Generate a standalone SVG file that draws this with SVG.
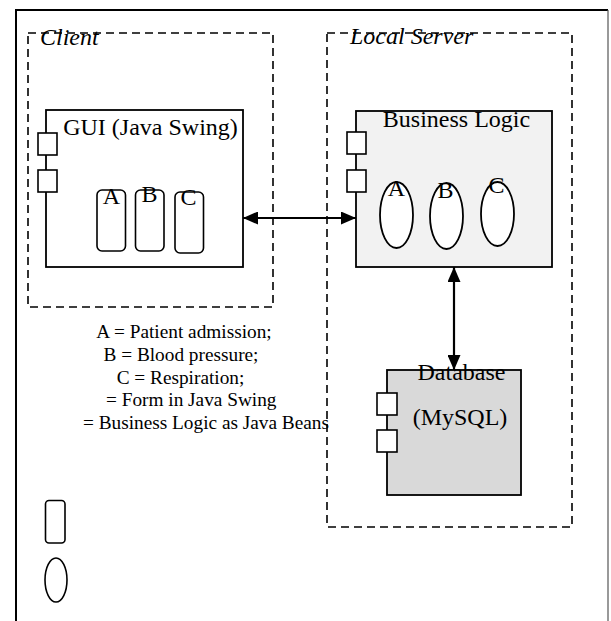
<svg xmlns="http://www.w3.org/2000/svg" width="611" height="621" viewBox="0 0 611 621">
  <style>
    .lbl { font-family: "Liberation Serif", "Times New Roman", serif; font-size: 24px; fill: #000; }
    .ital { font-family: "Liberation Serif", "Times New Roman", serif; font-size: 24px; font-style: italic; fill: #000; }
    .leg { font-family: "Liberation Serif", "Times New Roman", serif; font-size: 19.3px; fill: #000; }
    .zone { fill: none; stroke: #000; stroke-width: 1.6; stroke-dasharray: 8 5; }
    .box { stroke: #000; stroke-width: 1.8; }
    .port { fill: #fff; stroke: #000; stroke-width: 1.6; }
    .form { fill: #fff; stroke: #000; stroke-width: 1.6; }
    .bean { fill: #fff; stroke: #000; stroke-width: 1.8; }
    .link { stroke: #000; stroke-width: 2.2; fill: none; }
  </style>
  <defs>
    <marker id="head" markerUnits="userSpaceOnUse" markerWidth="15" markerHeight="13" refX="15" refY="6.5" orient="auto-start-reverse">
      <path d="M0,0 L15,6.5 L0,13 Z" fill="#000"/>
    </marker>
  </defs>

  <rect width="611" height="621" fill="#fff"/>

  <!-- page frame -->
  <g id="frame">
    <path d="M16,621 V10 H608" fill="none" stroke="#000" stroke-width="2"/>
    <path d="M608,10 V621" fill="none" stroke="#555" stroke-width="1.2"/>
  </g>

  <!-- client tier -->
  <g id="client">
    <rect class="zone" x="28" y="33" width="245" height="274"/>
    <text class="ital" x="40" y="45">Client</text>
  </g>

  <g id="gui">
    <rect class="box" x="46" y="110" width="197" height="157" fill="#fff"/>
    <rect class="port" x="38" y="133" width="19" height="22"/>
    <rect class="port" x="38" y="170" width="19" height="22"/>
    <text class="lbl" x="150.5" y="135" text-anchor="middle">GUI (Java Swing)</text>
    <rect class="form" x="97" y="190" width="28.5" height="61" rx="5"/>
    <rect class="form" x="135.5" y="190" width="28.5" height="61" rx="5"/>
    <rect class="form" x="175" y="192" width="28.5" height="61" rx="5"/>
    <text class="lbl" x="111.5" y="204" text-anchor="middle">A</text>
    <text class="lbl" x="149.5" y="202" text-anchor="middle">B</text>
    <text class="lbl" x="188.5" y="205" text-anchor="middle">C</text>
  </g>

  <!-- server tier -->
  <g id="local-server">
    <rect class="zone" x="327" y="33" width="245" height="494"/>
    <text class="ital" x="350" y="44">Local Server</text>
  </g>

  <g id="business-logic">
    <rect class="box" x="356" y="111" width="196" height="156" fill="#f2f2f2"/>
    <rect class="port" x="347" y="132" width="19" height="22"/>
    <rect class="port" x="347" y="170" width="19" height="22"/>
    <text class="lbl" x="456.5" y="127" text-anchor="middle">Business Logic</text>
    <ellipse class="bean" cx="396.5" cy="215" rx="16.5" ry="33"/>
    <ellipse class="bean" cx="446.5" cy="216" rx="16.5" ry="33"/>
    <ellipse class="bean" cx="497.5" cy="214" rx="16.5" ry="32"/>
    <text class="lbl" x="396.5" y="196" text-anchor="middle">A</text>
    <text class="lbl" x="445.5" y="198" text-anchor="middle">B</text>
    <text class="lbl" x="496.5" y="193" text-anchor="middle">C</text>
  </g>

  <g id="database">
    <rect class="box" x="387" y="370" width="134" height="125" fill="#d9d9d9"/>
    <rect class="port" x="377" y="393" width="20" height="22"/>
    <rect class="port" x="377" y="430" width="20" height="22"/>
    <text class="lbl" x="461.5" y="380" text-anchor="middle">Database</text>
    <text class="lbl" x="460" y="425" text-anchor="middle">(MySQL)</text>
  </g>

  <!-- legend -->
  <g id="legend">
    <text class="leg" x="184" y="338" text-anchor="middle">A = Patient admission;</text>
    <text class="leg" x="181" y="360.8" text-anchor="middle">B = Blood pressure;</text>
    <text class="leg" x="180.5" y="383.6" text-anchor="middle">C = Respiration;</text>
    <text class="leg" x="106" y="406.4">= Form in Java Swing</text>
    <text class="leg" x="83" y="429.2">= Business Logic as Java Beans</text>
    <rect class="form" x="45.5" y="500.5" width="19.5" height="42.5" rx="3.5"/>
    <ellipse class="form" cx="56" cy="580" rx="11" ry="22"/>
  </g>

  <!-- connectors -->
  <g id="connectors">
    <line class="link" x1="243" y1="218" x2="356" y2="218" marker-start="url(#head)" marker-end="url(#head)"/>
    <line class="link" x1="454" y1="267" x2="454" y2="370" marker-start="url(#head)" marker-end="url(#head)"/>
  </g>
</svg>
